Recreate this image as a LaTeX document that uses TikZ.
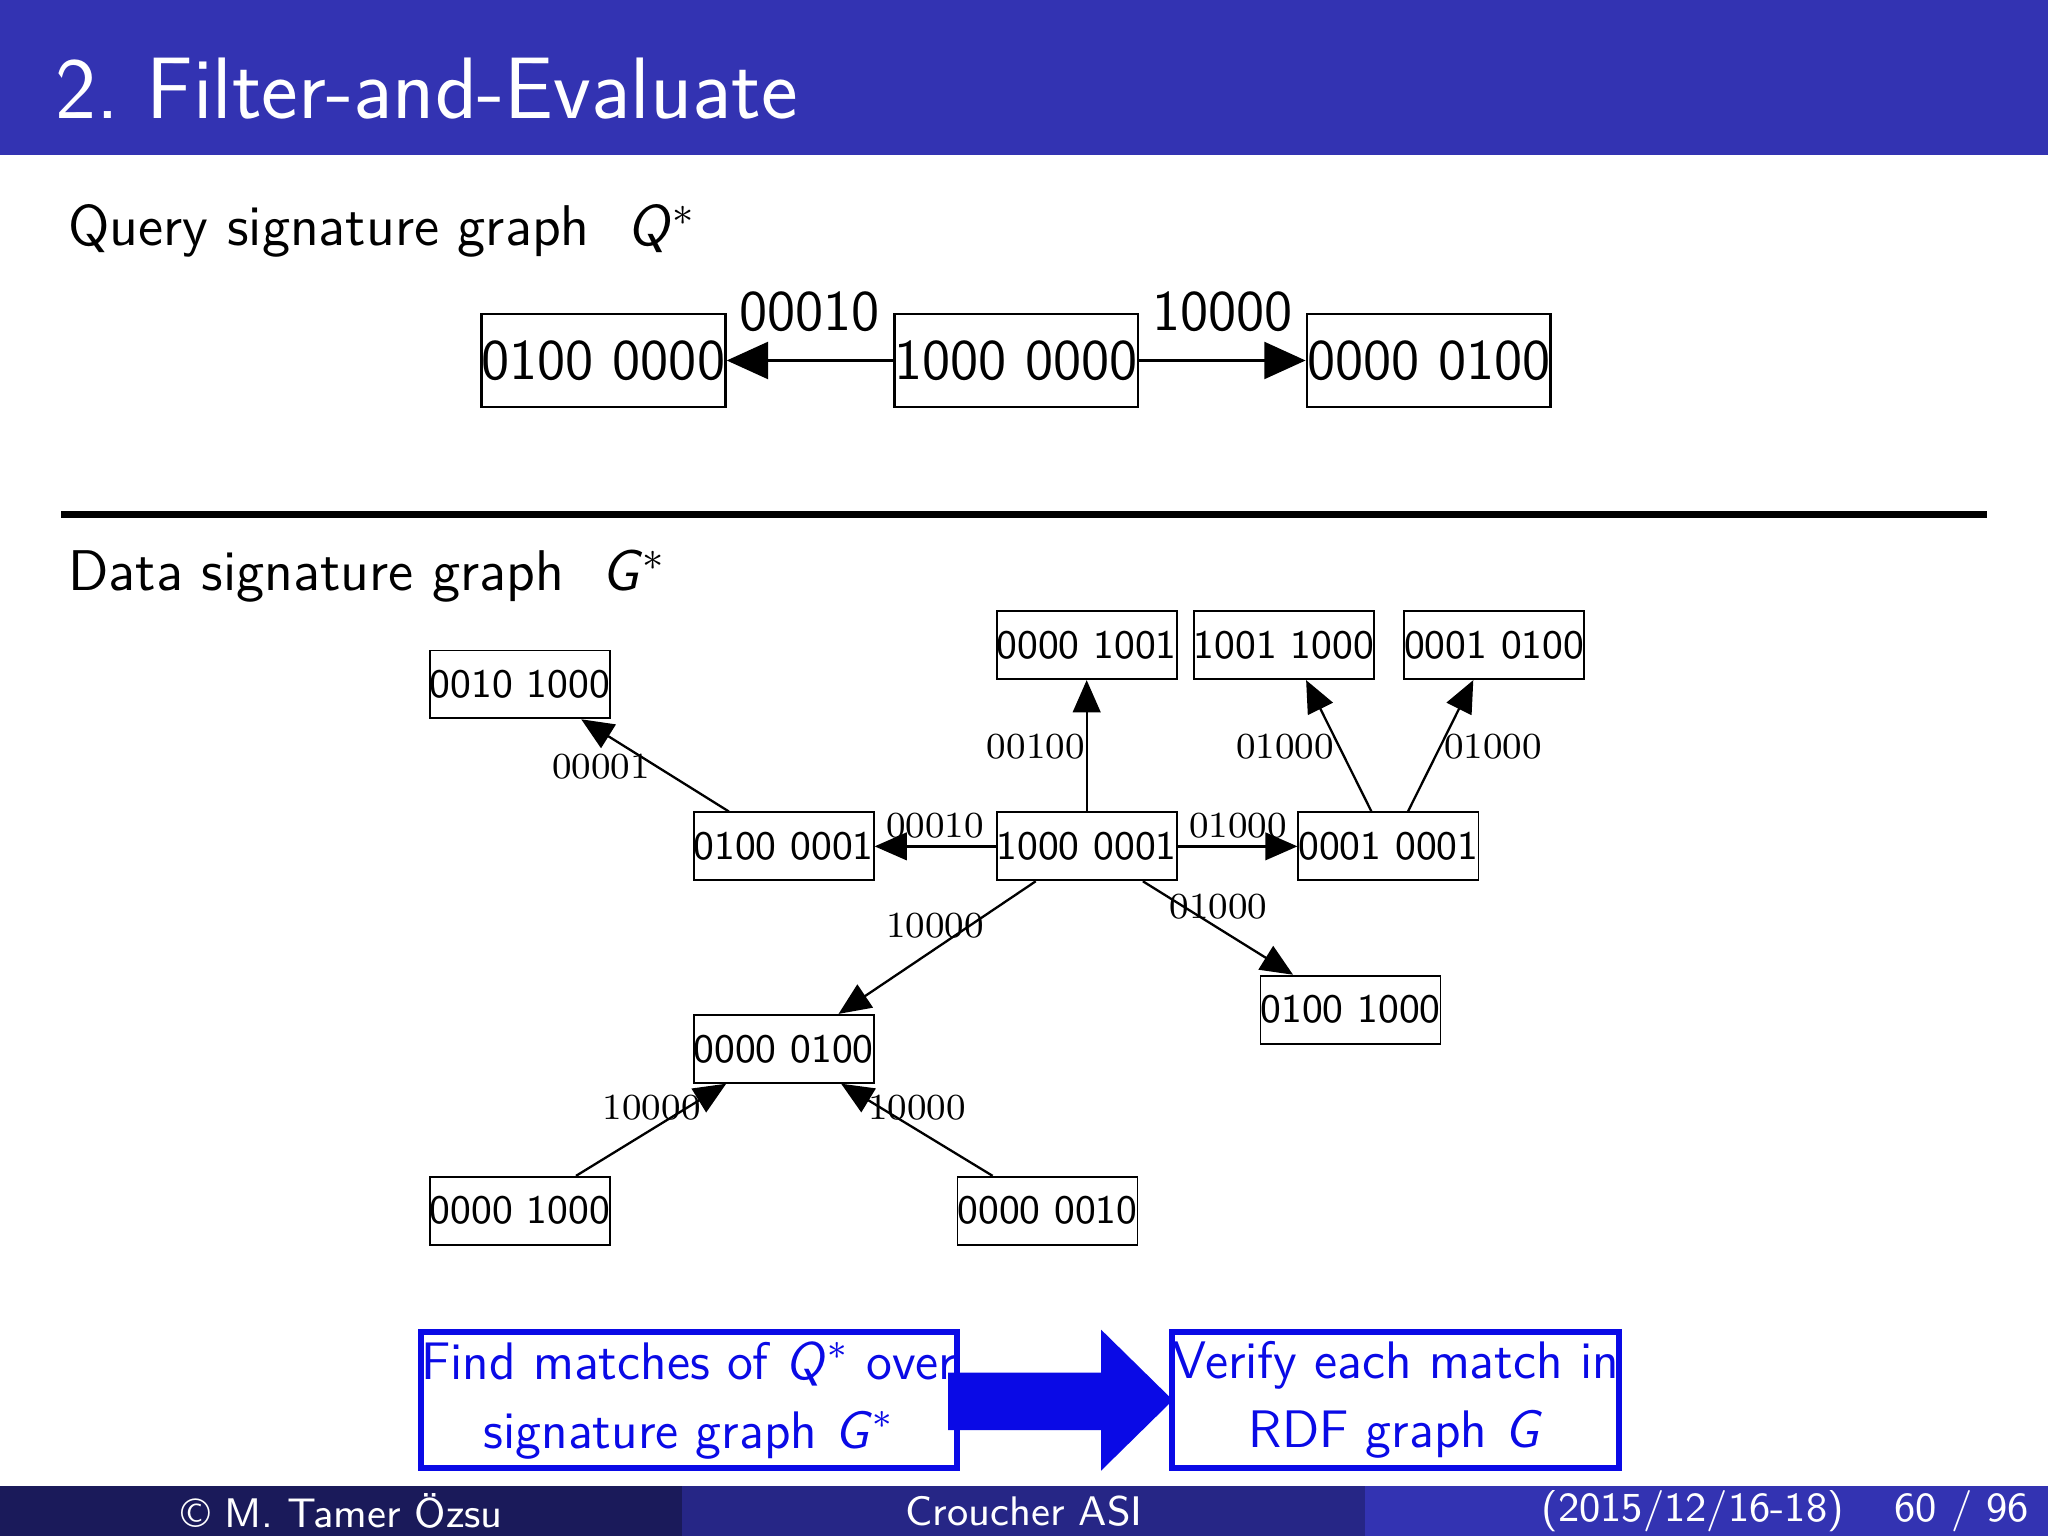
\documentclass[tikz,border=0pt]{standalone}
\usetikzlibrary{arrows.meta,calc}
\definecolor{bar}{RGB}{51,51,178}
\definecolor{barA}{RGB}{26,26,90}
\definecolor{barB}{RGB}{38,38,134}
\definecolor{bblue}{RGB}{10,10,230}
\begin{document}
\begin{tikzpicture}[x=0.01cm,y=-0.01cm,
  qbox/.style={draw,line width=0.6pt,minimum width=17.7mm,minimum height=7.1mm,inner sep=0pt,font=\sffamily\fontsize{12.5}{14}\selectfont},
  dbox/.style={draw,line width=0.4pt,minimum width=13mm,minimum height=5.2mm,inner sep=0pt,font=\sffamily\fontsize{8.8}{10}\selectfont},
  arr/.style={-{Triangle[length=7pt,width=6pt]},line width=0.5pt},
  qarr/.style={-{Triangle[length=9pt,width=8pt]},line width=0.7pt},
  elab/.style={font=\rmfamily\fontsize{8}{9}\selectfont,inner sep=0pt},
  qlab/.style={font=\sffamily\fontsize{12.5}{14}\selectfont,inner sep=0pt},
  fbox/.style={draw=bblue,line width=1.3pt,text=bblue,align=center,inner sep=0pt,font=\sffamily\fontsize{11.5}{15}\selectfont}]
\useasboundingbox (0,0) rectangle (1568,1176);
\fill[bar] (0,0) rectangle (1568,119);
\node[anchor=west,text=white,font=\sffamily\fontsize{19}{23}\selectfont] (title) at (30,68) {2.\ Filter-and-Evaluate};
% footer
\fill[barA] (0,1138) rectangle (522,1176);
\fill[barB] (522,1138) rectangle (1045,1176);
\fill[bar] (1045,1138) rectangle (1568,1176);
\node[text=white,font=\sffamily\fontsize{9}{10}\selectfont] (f1) at (262,1157) {\textcopyright{} M. Tamer Özsu};
\node[text=white,font=\sffamily\fontsize{9}{10}\selectfont] (f2) at (784,1157) {Croucher ASI};
\node[text=white,font=\sffamily\fontsize{9}{10}\selectfont] (f3) at (1296,1157) {(2015/12/16-18)};
\node[text=white,font=\sffamily\fontsize{9}{10}\selectfont] (f4) at (1502,1157) {60 / 96};
% headings
\node[anchor=west,font=\sffamily\fontsize{12.5}{15}\selectfont] (h1) at (40,177) {Query signature graph\ \ \textit{Q}$^*$};
\node[anchor=west,font=\sffamily\fontsize{12.5}{15}\selectfont] (h2) at (40,441) {Data signature graph\ \ \textit{G}$^*$};
\draw[line width=1.5pt] (47,394) -- (1521,394);
% query graph
\node[qbox] (q1) at (462,276) {0100 0000};
\node[qbox] (q2) at (778,276) {1000 0000};
\node[qbox] (q3) at (1094,276) {0000 0100};
\draw[qarr] (q2) -- (q1) node[qlab,midway,above=6pt] {00010};
\draw[qarr] (q2) -- (q3) node[qlab,midway,above=6pt] {10000};
% data graph
\node[dbox] (A) at (398,524) {0010 1000};
\node[dbox] (B) at (600,648) {0100 0001};
\node[dbox] (C) at (832,648) {1000 0001};
\node[dbox] (D) at (1063,648) {0001 0001};
\node[dbox] (E) at (832,494) {0000 1001};
\node[dbox] (F) at (983,494) {1001 1000};
\node[dbox] (G) at (1144,494) {0001 0100};
\node[dbox] (H) at (1034,773) {0100 1000};
\node[dbox] (I) at (600,803) {0000 0100};
\node[dbox] (J) at (398,927) {0000 1000};
\node[dbox] (K) at (802,927) {0000 0010};
\draw[arr] (C) -- (B);
\node[elab] (lCB) at (716,632) {00010};
\draw[arr] (C) -- (D);
\node[elab] (lCD) at (948,632) {01000};
\draw[arr] (C) -- (E);
\node[elab] (lCE) at (793,572) {00100};
\draw[arr] ($(D.north)+(-13,0)$) -- ($(F.south)+(17,0)$);
\node[elab] (lDF) at (984,572) {01000};
\draw[arr] ($(D.north)+(15,0)$) -- ($(G.south)+(-16,0)$);
\node[elab] (lDG) at (1143,572) {01000};
\draw[arr] ($(B.north)+(-42,0)$) -- ($(A.south)+(47,0)$);
\node[elab] (lBA) at (460,587) {00001};
\draw[arr] ($(C.south)+(-39,0)$) -- ($(I.north)+(42,0)$);
\node[elab] (lCI) at (716,709) {10000};
\draw[arr] ($(C.south)+(43,0)$) -- ($(H.north)+(-44,0)$);
\node[elab] (lCH) at (933,694) {01000};
\draw[arr] ($(J.north)+(43,0)$) -- ($(I.south)+(-44,0)$);
\node[elab] (lJI) at (499,848) {10000};
\draw[arr] ($(K.north)+(-42,0)$) -- ($(I.south)+(44,0)$);
\node[elab] (lKI) at (702,848) {10000};
% bottom
\node[fbox,minimum width=39.5mm,minimum height=10.4mm] (b1) at (527.5,1072) {Find matches of \textit{Q}$^*$ over\\signature graph \textit{G}$^*$};
\node[fbox,minimum width=33.9mm,minimum height=10.4mm] (b2) at (1068.5,1072) {Verify each match in\\RDF graph \textit{G}};
\fill[bblue] (726,1051) -- (843,1051) -- (843,1018) -- (898,1072) -- (843,1126) -- (843,1095) -- (726,1095) -- cycle;
\end{tikzpicture}
\end{document}
